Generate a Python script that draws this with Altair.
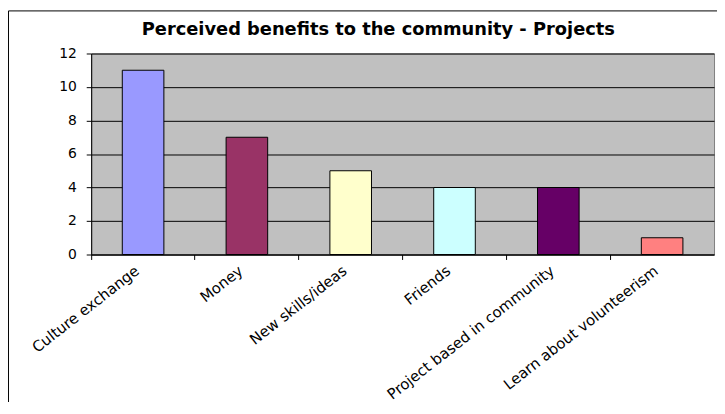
import altair as alt
import pandas as pd

categories = ["Culture exchange", "Money", "New skills/ideas", "Friends",
              "Project based in community", "Learn about volunteerism"]
values = [11, 7, 5, 4, 4, 1]
colors = ["#9999FF", "#993366", "#FFFFCC", "#CCFFFF", "#660066", "#FF8080"]
y_ticks = [0, 2, 4, 6, 8, 10, 12]
title_text = "Perceived benefits to the community - Projects"

df = pd.DataFrame({"category": categories, "value": values})

bars = alt.Chart(df).mark_bar(size=42, stroke="black", strokeWidth=1).encode(
    x=alt.X("category:N", sort=categories,
            scale=alt.Scale(paddingInner=0, paddingOuter=0),
            axis=alt.Axis(title=None, labelAngle=-38, labelAlign="right",
                          labelBaseline="middle", bandPosition=0, tickSize=5,
                          labelFontSize=15, labelFont="DejaVu Sans",
                          labelColor="black", domainColor="black",
                          tickColor="black", labelPadding=9, labelOffset=-6,
                          grid=False, labelLimit=400)),
    y=alt.Y("value:Q", scale=alt.Scale(domain=[0, 12]),
            axis=alt.Axis(title=None, values=y_ticks, tickSize=5,
                          labelFontSize=14, labelFont="DejaVu Sans",
                          labelColor="black", domainColor="black",
                          tickColor="black", gridColor="black",
                          gridOpacity=1, labelPadding=10)),
    color=alt.Color("category:N", scale=alt.Scale(domain=categories, range=colors),
                    legend=None),
)

frame_df = pd.DataFrame({"t": [title_text]})
frame_left = alt.Chart(frame_df).mark_rule(color="black", strokeWidth=1).encode(
    x=alt.value(-83.5), y=alt.value(-43), y2=alt.value(400))
frame_top = alt.Chart(frame_df).mark_rule(color="black", strokeWidth=1).encode(
    x=alt.value(-83.5), x2=alt.value(660), y=alt.value(-43))
title = alt.Chart(frame_df).mark_text(
    font="DejaVu Sans", fontSize=18, fontWeight="bold", color="black",
    align="center", baseline="alphabetic").encode(
    text="t:N", x=alt.value(290), y=alt.value(-19))

chart = alt.layer(bars, frame_left, frame_top, title).properties(
    width=629, height=203,
    autosize=alt.AutoSizeParams(type="none"),
    padding={"left": 84, "top": 44, "right": 3, "bottom": 147},
).configure(background="white").configure_view(
    fill="#C0C0C0", stroke="#808080", strokeWidth=1)

chart.save("out.html", embed_options={"renderer": "svg", "actions": False})
